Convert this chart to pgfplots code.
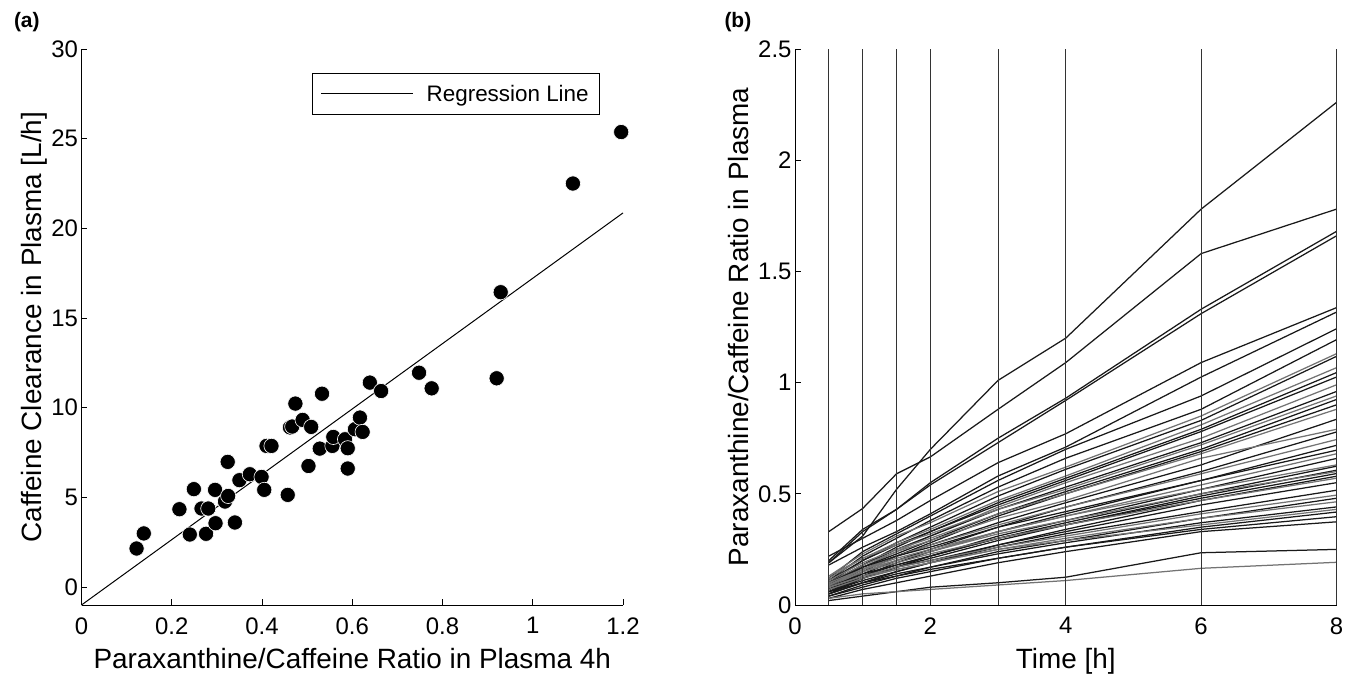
\documentclass[border=0pt]{standalone}
\usepackage{fontspec}
\setmainfont{Liberation Sans}
\usepackage{pgfplots}
\pgfplotsset{compat=1.18}
\pgfplotsset{
  myaxis/.style={
    scale only axis, width=541.5bp, height=556bp,
    axis x line*=bottom, axis y line*=left,
    tick align=inside, major tick length=6bp,
    every tick/.style={black, line width=0.8bp},
    axis line style={black, line width=0.8bp},
    tick label style={font=\fontsize{24}{28}\selectfont},
    xticklabel style={yshift=-9bp},
    label style={font=\fontsize{28}{32}\selectfont},
    /pgf/number format/assume math mode=true,
    xlabel style={at={(axis description cs:0.5,0)}, anchor=base, yshift=-63bp},
    clip=false,
  },
  lb/.style={black!90, line width=1.25bp},
  lg/.style={black!55, line width=1.25bp},
  vl/.style={black!80, line width=1bp},
}
\begin{document}
\begin{tikzpicture}[x=1bp,y=1bp]
\path[use as bounding box] (-81.5bp,-71bp) rectangle (1263.5bp,605bp);
\node[font=\bfseries\fontsize{21}{24}\selectfont, anchor=west] at (-71bp,583bp) {(a)};
\node[font=\bfseries\fontsize{21}{24}\selectfont, anchor=west] at (639.5bp,583bp) {(b)};

\begin{axis}[myaxis, at={(0bp,0bp)}, anchor=south west,
  xmin=0, xmax=1.2, ymin=-1, ymax=30,
  xtick={0,0.2,0.4,0.6,0.8,1,1.2}, ytick={0,5,10,15,20,25,30},
  xlabel={Paraxanthine/Caffeine Ratio in Plasma 4h},
  ylabel={Caffeine Clearance in Plasma [L/h]},
  ylabel style={at={(axis description cs:-0.0739,0.5)}, anchor=base},
  legend style={at={(0.9575,0.9568)}, anchor=north east, draw=black, line width=0.6bp,
    font=\fontsize{22.5}{26}\selectfont, inner xsep=8bp, inner ysep=8.5bp,
    nodes={inner sep=3bp}, /tikz/column sep=10bp},
  legend image code/.code={\draw[#1] (0bp,0bp) -- (92bp,0bp);},
]
\addplot[only marks, mark=*, mark size=7.6bp, mark options={fill=black, draw=white, line width=0.6bp}, forget plot] coordinates {
(0.122,2.15) (0.138,2.99) (0.217,4.34) (0.249,5.46) (0.240,2.93) (0.266,4.38) (0.281,4.38)
(0.276,2.97) (0.296,5.42) (0.297,3.56) (0.318,4.77) (0.325,5.08) (0.324,6.98) (0.340,3.60)
(0.350,5.96) (0.373,6.29) (0.399,6.14) (0.405,5.42) (0.410,7.87) (0.421,7.87) (0.457,5.14)
(0.462,8.90) (0.467,8.95) (0.474,10.23) (0.490,9.32) (0.503,6.75) (0.509,8.93) (0.528,7.72)
(0.533,10.78) (0.556,7.87) (0.558,8.37) (0.584,8.24) (0.590,7.74) (0.590,6.61) (0.606,8.80)
(0.617,9.45) (0.623,8.65) (0.639,11.40) (0.664,10.93) (0.748,11.95) (0.776,11.08)
(0.920,11.64) (0.929,16.44) (1.089,22.5) (1.196,25.37)
};
\addplot[black, line width=1bp] coordinates {(0,-1) (1.2,20.86)};
\addlegendentry{Regression Line}
\end{axis}

\begin{axis}[myaxis, at={(713.5bp,0bp)}, anchor=south west,
  xmin=0, xmax=8, ymin=0, ymax=2.5,
  xtick={0,2,4,6,8}, ytick={0,0.5,1,1.5,2,2.5},
  xlabel={Time [h]},
  ylabel={Paraxanthine/Caffeine Ratio in Plasma},
  ylabel style={at={(axis description cs:-0.0867,0.5)}, anchor=base},
]
\addplot[lb] coordinates {(0.5,0.19) (1,0.31) (1.5,0.52) (2,0.70) (3,1.01) (4,1.20) (6,1.78) (8,2.26)};
\addplot[lb] coordinates {(0.5,0.33) (1,0.434) (1.5,0.59) (2,0.666) (3,0.88) (4,1.09) (6,1.58) (8,1.78)};
\addplot[lb] coordinates {(0.5,0.20) (1,0.34) (1.5,0.43) (2,0.55) (3,0.75) (4,0.93) (6,1.33) (8,1.68)};
\addplot[lb] coordinates {(0.5,0.19) (1,0.33) (1.5,0.43) (2,0.54) (3,0.73) (4,0.92) (6,1.31) (8,1.66)};
\addplot[lb] coordinates {(0.5,0.22) (1,0.30) (1.5,0.38) (2,0.47) (3,0.64) (4,0.77) (6,1.09) (8,1.337)};
\addplot[lb] coordinates {(0.5,0.18) (1,0.26) (1.5,0.33) (2,0.41) (3,0.58) (4,0.71) (6,1.025) (8,1.317)};
\addplot[lb] coordinates {(0.5,0.12) (1,0.24) (1.5,0.32) (2,0.40) (3,0.56) (4,0.70) (6,0.94) (8,1.242)};
\addplot[lb] coordinates {(0.5,0.11) (1,0.22) (1.5,0.30) (2,0.38) (3,0.53) (4,0.66) (6,0.88) (8,1.193)};
\addplot[lg] coordinates {(0.5,0.13) (1,0.23) (1.5,0.31) (2,0.37) (3,0.51) (4,0.62) (6,0.85) (8,1.13)};
\addplot[lb] coordinates {(0.5,0.10) (1,0.20) (1.5,0.28) (2,0.35) (3,0.49) (4,0.61) (6,0.83) (8,1.118)};
\addplot[lg] coordinates {(0.5,0.12) (1,0.21) (1.5,0.28) (2,0.34) (3,0.47) (4,0.58) (6,0.81) (8,1.067)};
\addplot[lb] coordinates {(0.5,0.09) (1,0.18) (1.5,0.26) (2,0.33) (3,0.46) (4,0.57) (6,0.79) (8,1.045)};
\addplot[lb] coordinates {(0.5,0.11) (1,0.20) (1.5,0.27) (2,0.33) (3,0.45) (4,0.56) (6,0.78) (8,1.025)};
\addplot[lg] coordinates {(0.5,0.08) (1,0.17) (1.5,0.24) (2,0.31) (3,0.44) (4,0.55) (6,0.75) (8,0.99)};
\addplot[lb] coordinates {(0.5,0.10) (1,0.18) (1.5,0.25) (2,0.31) (3,0.43) (4,0.53) (6,0.73) (8,0.96)};
\addplot[lg] coordinates {(0.5,0.13) (1,0.21) (1.5,0.27) (2,0.32) (3,0.43) (4,0.52) (6,0.72) (8,0.94)};
\addplot[lb] coordinates {(0.5,0.09) (1,0.17) (1.5,0.23) (2,0.29) (3,0.41) (4,0.51) (6,0.70) (8,0.924)};
\addplot[lb] coordinates {(0.5,0.07) (1,0.15) (1.5,0.22) (2,0.28) (3,0.40) (4,0.50) (6,0.69) (8,0.90)};
\addplot[lg] coordinates {(0.5,0.11) (1,0.19) (1.5,0.25) (2,0.30) (3,0.41) (4,0.50) (6,0.68) (8,0.88)};
\addplot[lb] coordinates {(0.5,0.08) (1,0.16) (1.5,0.22) (2,0.27) (3,0.37) (4,0.46) (6,0.63) (8,0.835)};
\addplot[lg] coordinates {(0.5,0.10) (1,0.18) (1.5,0.24) (2,0.29) (3,0.39) (4,0.47) (6,0.66) (8,0.79)};
\addplot[lb] coordinates {(0.5,0.07) (1,0.14) (1.5,0.20) (2,0.25) (3,0.35) (4,0.44) (6,0.60) (8,0.778)};
\addplot[lg] coordinates {(0.5,0.09) (1,0.16) (1.5,0.22) (2,0.27) (3,0.36) (4,0.44) (6,0.59) (8,0.744)};
\addplot[lb] coordinates {(0.5,0.06) (1,0.13) (1.5,0.19) (2,0.24) (3,0.33) (4,0.41) (6,0.56) (8,0.718)};
\addplot[lb] coordinates {(0.5,0.10) (1,0.17) (1.5,0.22) (2,0.26) (3,0.35) (4,0.42) (6,0.56) (8,0.696)};
\addplot[lg] coordinates {(0.5,0.08) (1,0.15) (1.5,0.20) (2,0.24) (3,0.33) (4,0.40) (6,0.54) (8,0.68)};
\addplot[lb] coordinates {(0.5,0.05) (1,0.12) (1.5,0.17) (2,0.22) (3,0.31) (4,0.38) (6,0.52) (8,0.659)};
\addplot[lg] coordinates {(0.5,0.09) (1,0.16) (1.5,0.21) (2,0.25) (3,0.33) (4,0.40) (6,0.52) (8,0.63)};
\addplot[lb] coordinates {(0.5,0.07) (1,0.13) (1.5,0.18) (2,0.22) (3,0.30) (4,0.37) (6,0.50) (8,0.624)};
\addplot[lb] coordinates {(0.5,0.06) (1,0.12) (1.5,0.17) (2,0.21) (3,0.29) (4,0.36) (6,0.49) (8,0.606)};
\addplot[lg] coordinates {(0.5,0.10) (1,0.16) (1.5,0.20) (2,0.24) (3,0.32) (4,0.38) (6,0.50) (8,0.60)};
\addplot[lb] coordinates {(0.5,0.08) (1,0.14) (1.5,0.18) (2,0.22) (3,0.30) (4,0.36) (6,0.48) (8,0.591)};
\addplot[lb] coordinates {(0.5,0.05) (1,0.10) (1.5,0.15) (2,0.19) (3,0.27) (4,0.34) (6,0.47) (8,0.579)};
\addplot[lg] coordinates {(0.5,0.09) (1,0.15) (1.5,0.19) (2,0.23) (3,0.30) (4,0.36) (6,0.47) (8,0.57)};
\addplot[lb] coordinates {(0.5,0.07) (1,0.12) (1.5,0.17) (2,0.20) (3,0.27) (4,0.33) (6,0.45) (8,0.55)};
\addplot[lb] coordinates {(0.5,0.06) (1,0.11) (1.5,0.15) (2,0.19) (3,0.26) (4,0.32) (6,0.42) (8,0.516)};
\addplot[lg] coordinates {(0.5,0.08) (1,0.13) (1.5,0.17) (2,0.20) (3,0.26) (4,0.31) (6,0.41) (8,0.494)};
\addplot[lb] coordinates {(0.5,0.04) (1,0.09) (1.5,0.13) (2,0.17) (3,0.24) (4,0.29) (6,0.39) (8,0.48)};
\addplot[lg] coordinates {(0.5,0.07) (1,0.12) (1.5,0.16) (2,0.19) (3,0.25) (4,0.30) (6,0.39) (8,0.464)};
\addplot[lb] coordinates {(0.5,0.05) (1,0.10) (1.5,0.14) (2,0.17) (3,0.23) (4,0.28) (6,0.37) (8,0.441)};
\addplot[lg] coordinates {(0.5,0.08) (1,0.13) (1.5,0.16) (2,0.19) (3,0.25) (4,0.29) (6,0.36) (8,0.43)};
\addplot[lb] coordinates {(0.5,0.04) (1,0.08) (1.5,0.12) (2,0.15) (3,0.21) (4,0.26) (6,0.35) (8,0.418)};
\addplot[lb] coordinates {(0.5,0.06) (1,0.10) (1.5,0.13) (2,0.16) (3,0.21) (4,0.26) (6,0.34) (8,0.397)};
\addplot[lb] coordinates {(0.5,0.03) (1,0.07) (1.5,0.10) (2,0.13) (3,0.19) (4,0.24) (6,0.33) (8,0.374)};
\addplot[lb] coordinates {(0.5,0.02) (1,0.04) (1.5,0.06) (2,0.08) (3,0.10) (4,0.125) (6,0.235) (8,0.25)};
\addplot[lg] coordinates {(0.5,0.03) (1,0.05) (1.5,0.06) (2,0.07) (3,0.09) (4,0.11) (6,0.165) (8,0.192)};
\addplot[vl] coordinates {(0.5,0) (0.5,2.5)};
\addplot[vl] coordinates {(1,0) (1,2.5)};
\addplot[vl] coordinates {(1.5,0) (1.5,2.5)};
\addplot[vl] coordinates {(2,0) (2,2.5)};
\addplot[vl] coordinates {(3,0) (3,2.5)};
\addplot[vl] coordinates {(4,0) (4,2.5)};
\addplot[vl] coordinates {(6,0) (6,2.5)};
\addplot[vl] coordinates {(8,0) (8,2.5)};
\end{axis}
\end{tikzpicture}
\end{document}
